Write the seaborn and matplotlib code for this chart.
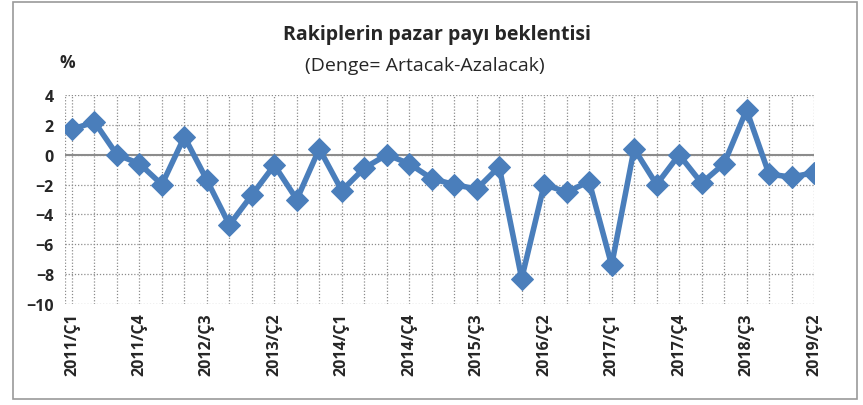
import matplotlib
matplotlib.use("Agg")
import matplotlib.pyplot as plt
import seaborn as sns
import pandas as pd
from matplotlib.patches import Rectangle

# Quarterly data, 2011/Ç1 - 2019/Ç2
years = [2011] * 4 + [2012] * 4 + [2013] * 4 + [2014] * 4 + [2015] * 4 + [2016] * 4 + [2017] * 4 + [2018] * 4 + [2019] * 2
quarters = [1, 2, 3, 4] * 8 + [1, 2]
values = [1.7, 2.2, 0.0, -0.6, -2.0, 1.2, -1.7, -4.7,
          -2.7, -0.7, -3.0, 0.4, -2.4, -0.9, 0.0, -0.6,
          -1.6, -2.0, -2.3, -0.8, -8.3, -2.0, -2.5, -1.8,
          -7.4, 0.4, -2.0, 0.0, -1.9, -0.6, 3.0, -1.3,
          -1.5, -1.2]

labels = [f"{y}/Ç{q}" for y, q in zip(years, quarters)]
df = pd.DataFrame({"idx": range(len(values)), "label": labels, "value": values})

sns.set_style("white")
plt.rcParams["font.family"] = ["Open Sans", "DejaVu Sans"]

fig = plt.figure(figsize=(8.63, 4.06), dpi=100)
ax = fig.add_axes([65 / 863, 1 - 305 / 406, 749 / 863, 209 / 406])

blue = "#4a7ebb"
sns.lineplot(data=df, x="idx", y="value", ax=ax, color=blue, linewidth=4,
             marker="D", markersize=11, markeredgecolor=blue, zorder=3)

ax.set_xlim(-0.31, len(values) - 1)
ax.set_ylim(-10, 4)
ax.set_yticks(range(-10, 5, 2))
ax.set_xticks(df["idx"])
ax.set_xticklabels([lab if i % 3 == 0 else "" for i, lab in enumerate(labels)],
                   rotation=90, fontsize=11.5, fontweight="bold")
ax.tick_params(axis="y", labelsize=11.5, length=0, pad=8)
ax.tick_params(axis="x", length=0, pad=6)
for lab in ax.get_yticklabels():
    lab.set_fontweight("bold")

ax.grid(True, color="#8c8c8c", linestyle=(0, (1, 1.5)), linewidth=0.9)
ax.axvline(-0.31, color="#8c8c8c", linestyle=(0, (1, 1.5)), linewidth=0.9)
ax.axhline(0, color="#8c8c8c", linewidth=1.5, zorder=2)
for s in ax.spines.values():
    s.set_visible(False)
ax.set_xlabel("")
ax.set_ylabel("")

fig.text(437 / 863, 1 - 35 / 406, "Rakiplerin pazar payı beklentisi",
         ha="center", va="center", fontsize=14, fontweight="bold")
fig.text(425 / 863, 1 - 66 / 406, "(Denge= Artacak-Azalacak)",
         ha="center", va="center", fontsize=14)
fig.text(67 / 863, 1 - 63 / 406, "%", ha="center", va="center",
         fontsize=12.5, fontweight="bold")

fig.patches.append(Rectangle((13 / 863, 1 - 400 / 406), 844 / 863, 397 / 406,
                             transform=fig.transFigure, fill=False,
                             edgecolor="#9a9a9a", linewidth=1.2))

fig.savefig("out.png", dpi=100)
